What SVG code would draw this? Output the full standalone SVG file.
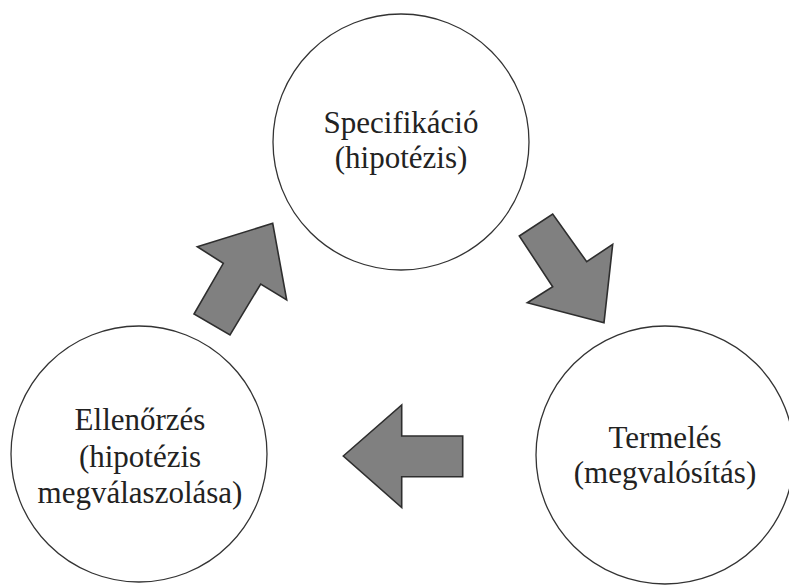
<svg xmlns="http://www.w3.org/2000/svg" width="789" height="585" viewBox="0 0 789 585">
  <style>
    .node circle { fill: #ffffff; stroke: #333333; stroke-width: 1.3; }
    .node text { font-family: "Liberation Serif", "Times New Roman", serif; font-size: 31px; fill: #222222; text-anchor: middle; }
    .arrow { fill: #808080; stroke: #2e2e2e; stroke-width: 1.6; stroke-linejoin: miter; }
  </style>
  <rect width="789" height="585" fill="#ffffff"/>

  <!-- block arrows forming the cycle -->
  <g id="connectors">
    <polygon class="arrow" points="272.7,223.3 197.3,246.7 223.3,263.3 194,314 230,335 260.7,284 286.7,300"/>
    <polygon class="arrow" points="519.3,236 552.7,214 586.7,261.7 612.7,244.3 604,322.7 527.3,302.7 552.7,286.7"/>
    <polygon class="arrow" points="343.3,456 401.7,405 401.7,436 462.7,436 462.7,476.7 401.7,476.7 401.7,507.5"/>
  </g>

  <g id="specifikacio" class="node">
    <circle cx="401" cy="142" r="128"/>
    <text x="401" y="133">Specifikáció</text>
    <text x="401" y="168">(hipotézis)</text>
  </g>

  <g id="termeles" class="node">
    <circle cx="665" cy="455" r="129"/>
    <text x="665" y="448">Termelés</text>
    <text x="665" y="483">(megvalósítás)</text>
  </g>

  <g id="ellenorzes" class="node">
    <circle cx="139" cy="454" r="128"/>
    <text x="140" y="430">Ellenőrzés</text>
    <text x="140" y="467">(hipotézis</text>
    <text x="140" y="503">megválaszolása)</text>
  </g>
</svg>
